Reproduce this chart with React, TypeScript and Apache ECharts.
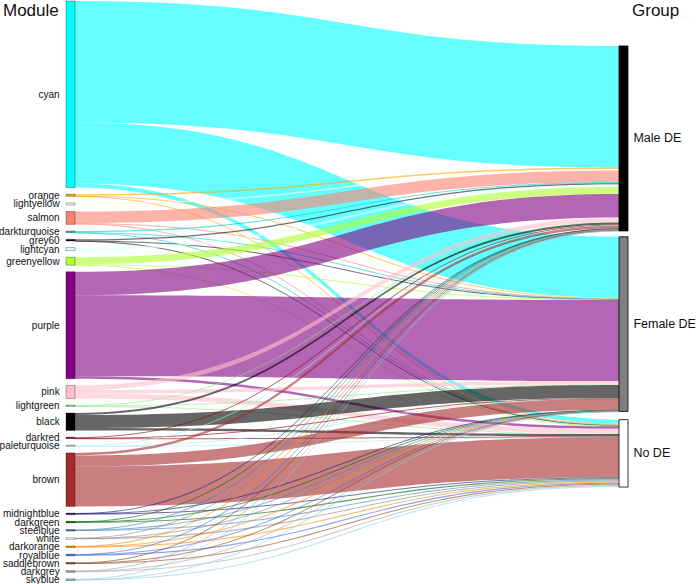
import React, { useEffect, useRef } from "react";
import * as echarts from "echarts";

const modules = [
  "cyan", "orange", "lightyellow", "salmon", "darkturquoise", "grey60", "lightcyan",
  "greenyellow", "purple", "pink", "lightgreen", "black", "darkred", "paleturquoise",
  "brown", "midnightblue", "darkgreen", "steelblue", "white", "darkorange", "royalblue",
  "saddlebrown", "darkgrey", "skyblue",
];
const moduleColors = [
  "#00ffff", "#ffa500", "#ffffe0", "#fa8072", "#00ced1", "#111111", "#e0ffff",
  "#adff2f", "#800080", "#ffc0cb", "#90ee90", "#000000", "#8b0000", "#afeeee",
  "#a52a2a", "#191970", "#006400", "#4682b4", "#ffffff", "#ff8c00", "#4169e1",
  "#8b4513", "#a9a9a9", "#87ceeb",
];
const groups = ["Male DE", "Female DE", "No DE"];
const groupColors = ["#000000", "#808080", "#ffffff"];

const toMale = [121.5, 1.5, 1.5, 11.5, 1.2, 1.2, 2.5, 7, 23.5, 4.5, 0.5, 2, 0.8, 0.5, 2.5, 0.3, 0.3, 0.3, 0.3, 0.3, 0.3, 0.3, 0.3, 0.3];
const toFemale = [61, 0.3, 0.2, 0.5, 0.3, 0.3, 0.2, 0.4, 81, 3.5, 0.5, 13, 0.4, 0.2, 11, 0.2, 0.2, 0.2, 0.2, 0.2, 0.2, 0.2, 0.2, 0.2];
const toNo = [4, 0.3, 0.3, 0.8, 0.2, 0.2, 0.3, 0.5, 2.5, 5, 0.3, 2.5, 0.3, 0.3, 40, 1.1, 1.1, 1.1, 1.1, 1.1, 1.1, 1.1, 1.1, 1.1];

const FONT = "'Liberation Sans', Arial, Helvetica, sans-serif";

export default function App() {
  const ref = useRef<HTMLDivElement>(null);
  useEffect(() => {
    if (!ref.current) return;
    const chart = echarts.init(ref.current, undefined, { renderer: "svg" });
    const H = 580;
    const groupTops = [45, 236, 419];
    const nodes: any[] = [];
    modules.forEach((m, i) => {
      nodes.push({
        name: m,
        itemStyle: { color: moduleColors[i], borderColor: "rgba(0,0,0,0.45)", borderWidth: 0.7 },
        label: { position: "left", distance: 6, fontSize: 10, lineHeight: 8, color: "#111", fontFamily: FONT },
      });
    });
    groups.forEach((g, i) => {
      nodes.push({
        name: g,
        localY: groupTops[i] / H,
        itemStyle: { color: groupColors[i], borderColor: "#000", borderWidth: 0.8 },
        label: { position: "right", distance: 5, fontSize: 12.5, color: "#111", fontFamily: FONT },
      });
    });
    const links: any[] = [];
    const targets = [toMale, toFemale, toNo];
    modules.forEach((m, i) => {
      targets.forEach((arr, j) => {
        const link: any = { source: m, target: groups[j], value: arr[i] };
        if (m === "white") link.lineStyle = { color: "#888888" };
        links.push(link);
      });
    });
    chart.setOption({
      animation: false,
      graphic: [
        { type: "text", left: 3, top: 2, style: { text: "Module", fontSize: 17, fill: "#111", fontFamily: FONT } },
        { type: "text", left: 632, top: 2, style: { text: "Group", fontSize: 17, fill: "#111", fontFamily: FONT } },
      ],
      series: [
        {
          type: "sankey",
          left: 66,
          right: 68,
          top: 1,
          bottom: 3.5,
          nodeWidth: 9,
          nodeGap: 6.63,
          layoutIterations: 0,
          draggable: false,
          emphasis: { disabled: true },
          data: nodes,
          links,
          lineStyle: { color: "source", opacity: 0.6, curveness: 0.5 },
        },
      ],
    });
    return () => chart.dispose();
  }, []);
  return (
    <div
      ref={ref}
      style={{ position: "absolute", left: 0, top: 0, width: 696, height: 584 }}
    />
  );
}
